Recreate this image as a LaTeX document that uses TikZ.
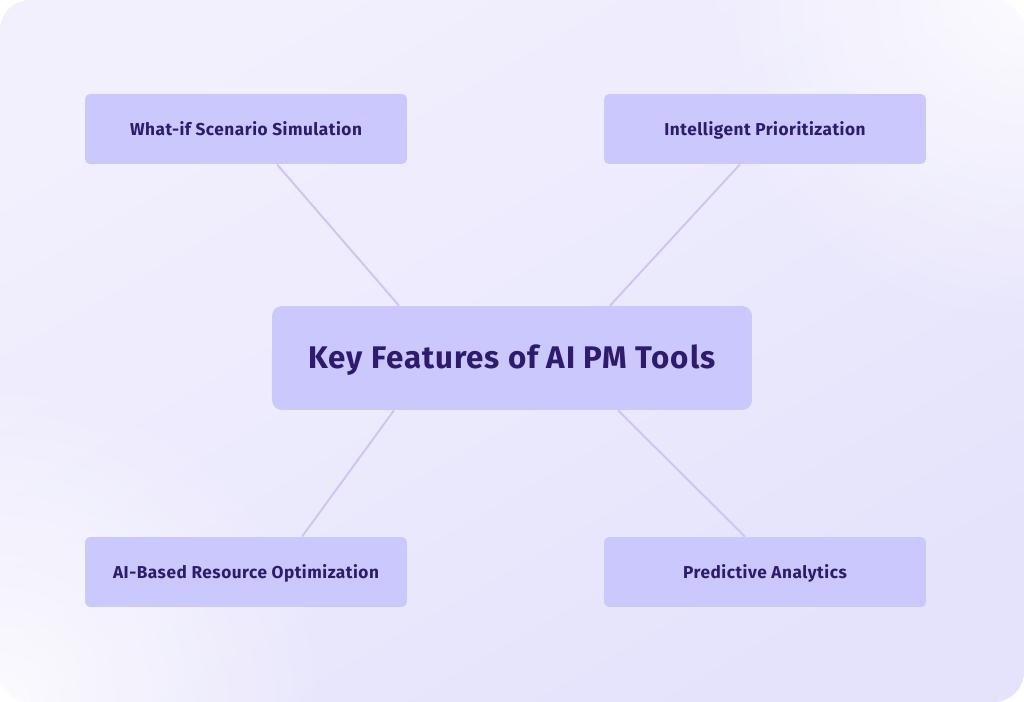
\documentclass[tikz,border=0pt]{standalone}
\usepackage{fontspec}
\setmainfont[LetterSpace=3]{Fira Sans}
\usetikzlibrary{calc,fadings}
\definecolor{boxfill}{HTML}{CAC8FD}
\definecolor{ink}{HTML}{2E1A6E}
\definecolor{wire}{HTML}{C9C6FD}
\definecolor{bglight}{HTML}{F2F0FD}
\definecolor{bgdark}{HTML}{E5E3FC}
\tikzfading[name=glow, inner color=transparent!0, outer color=transparent!100]
\tikzset{
  feature/.style={fill=boxfill, rounded corners=0.1cm, minimum width=6.44cm,
    minimum height=1.4cm, text=ink, text height=1.6ex, text depth=.3ex,
    font=\bfseries\fontsize{9.8}{11}\selectfont},
  hub/.style={fill=boxfill, rounded corners=0.2cm, minimum width=9.6cm,
    minimum height=2.08cm, text=ink, text height=1.6ex, text depth=.3ex,
    font=\bfseries\fontsize{17.8}{20}\selectfont},
  link/.style={draw=wire, line width=1.1pt}
}
\begin{document}
\begin{tikzpicture}[x=0.02cm,y=-0.02cm]
        % background panel
        \useasboundingbox (0,0) rectangle (1024,702);
        \begin{scope}
          \clip[rounded corners=0.6cm] (0,0) rectangle (1024,702);
          \shade[top color=bglight, bottom color=bgdark, shading angle=30] (0,0) rectangle (1024,702);
          \fill[white, opacity=.8, path fading=glow] (0,702) circle (330);
          \fill[white, opacity=.8, path fading=glow] (1024,0) circle (330);
        \end{scope}
        % nodes
        \node[hub] (key) at (512,358) {\raisebox{-2.4pt}{Key Features of AI PM Tools}};
        \node[feature] (whatif) at (246,129) {What-if Scenario Simulation};
        \node[feature] (prio) at (765,129) {Intelligent Prioritization};
        \node[feature] (resource) at (246,572) {AI-Based Resource Optimization};
        \node[feature] (predict) at (765,572) {Predictive Analytics};
        % connectors
        \coordinate (kwhatif) at ($(key.north)+(-113,0)$);
        \coordinate (kprio) at ($(key.north)+(98,0)$);
        \coordinate (kresource) at ($(key.south)+(-118,0)$);
        \coordinate (kpredict) at ($(key.south)+(106,0)$);
        \draw[link] ($(whatif.south)+(31,0)$) -- (kwhatif);
        \draw[link] ($(prio.south)+(-25,0)$) -- (kprio);
        \draw[link] ($(resource.north)+(56,0)$) -- (kresource);
        \draw[link] ($(predict.north)+(-20,0)$) -- (kpredict);
      \end{tikzpicture}
\end{document}
